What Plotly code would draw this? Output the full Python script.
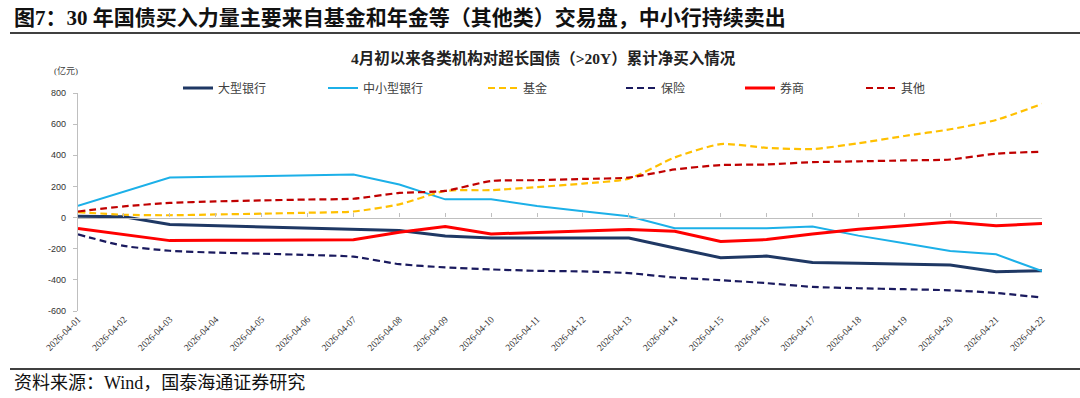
import plotly.graph_objects as go

dates = ["2026-04-%02d" % d for d in range(1, 23)]
big_banks = [8, 5, -45, -53, -62, -70, -79, -83, -118, -131, -131, -131, -131, -195, -258, -247, -288, -294, -301, -305, -348, -342]
small_banks = [75, 165, 257, 262, 267, 271, 276, 212, 117, 117, 75, 40, 9, -68, -68, -68, -57, -116, -165, -215, -236, -344]
funds = [35, 18, 15, 20, 25, 31, 39, 85, 171, 176, 196, 218, 250, 386, 472, 448, 440, 477, 524, 567, 627, 730]
insurance = [-108, -182, -213, -225, -232, -240, -251, -299, -320, -333, -342, -346, -357, -385, -402, -421, -445, -454, -460, -467, -484, -514]
brokers = [-70, -108, -148, -146, -145, -144, -143, -94, -57, -105, -94, -86, -77, -88, -154, -141, -105, -75, -52, -28, -52, -38]
others = [39, 72, 94, 104, 110, 116, 121, 158, 171, 235, 240, 248, 257, 309, 337, 341, 356, 361, 367, 373, 410, 423]

y_ticks = [-600, -400, -200, 0, 200, 400, 600, 800]

W, H = 1080, 398
L, R, T, B = 78, 38, 93, 87
PW, PH = W - L - R, H - T - B

def px(xp):
    return (xp - L) / PW

def py(yp):
    return (H - B - yp) / PH

SERIF = "Liberation Serif, Noto Sans CJK SC"
SANS = "Liberation Sans, Arial"

idx = list(range(len(dates)))

series = [
    ("大型银行", big_banks, "#1F3864", 3, "solid", "legend", 183),
    ("中小型银行", small_banks, "#1CB0E8", 2, "solid", "legend2", 328),
    ("基金", funds, "#FFC000", 2.2, "7px,4px", "legend3", 488),
    ("保险", insurance, "#1A1A5E", 2.2, "7px,4px", "legend4", 626),
    ("券商", brokers, "#FF0000", 3, "solid", "legend5", 745),
    ("其他", others, "#C00000", 2.2, "7px,4px", "legend6", 866),
]

fig = go.Figure()
legends = {}
for name, vals, color, w, dash, lg, lx in series:
    shape = "spline" if dash != "solid" else "linear"
    fig.add_trace(go.Scatter(
        x=idx, y=vals, name=name, mode="lines",
        line=dict(color=color, width=w, dash=dash, shape=shape, smoothing=0.6),
        legend=lg, hoverinfo="skip",
    ))
    legends[lg] = dict(
        x=px(lx - 5), y=py(88), xanchor="left", yanchor="middle",
        orientation="h", bgcolor="rgba(0,0,0,0)", borderwidth=0,
        font=dict(family=SERIF, size=12, color="#404040"),
        itemwidth=30, tracegroupgap=0,
    )

fig.update_layout(
    width=W, height=H,
    margin=dict(l=L, r=R, t=T, b=B, autoexpand=False),
    paper_bgcolor="white", plot_bgcolor="white",
    showlegend=True,
    **legends,
    xaxis=dict(
        range=[0, len(dates) - 1], tickmode="array", tickvals=idx, ticktext=dates,
        tickangle=-45, showline=False, ticks="", showgrid=False, zeroline=False,
        tickfont=dict(family=SERIF, size=9.5, color="#333333"), automargin=False,
    ),
    xaxis2=dict(
        overlaying="x", anchor="free", position=600 / 1400,
        range=[0, len(dates) - 1], tickmode="linear", tick0=0, dtick=1,
        showticklabels=False, showline=True, linecolor="#BFBFBF", linewidth=1.3,
        ticks="inside", ticklen=4, tickcolor="#BFBFBF", showgrid=False, zeroline=False,
    ),
    yaxis=dict(
        range=[-600, 800], tickmode="array", tickvals=y_ticks,
        ticktext=[str(v) for v in y_ticks],
        showline=True, linecolor="#BFBFBF", linewidth=1.3, ticks="outside", ticklen=4,
        tickcolor="#BFBFBF", showgrid=False, zeroline=False, ticklabelstandoff=5,
        tickfont=dict(family=SANS, size=9, color="#333333"), automargin=False,
    ),
)

fig.add_trace(go.Scatter(x=[None], y=[None], xaxis="x2", showlegend=False, hoverinfo="skip"))

fig.add_annotation(
    text="<b>图7：30 年国债买入力量主要来自基金和年金等（其他类）交易盘，中小行持续卖出</b>",
    xref="paper", yref="paper", x=px(12), y=py(18), xanchor="left", yanchor="middle",
    showarrow=False, font=dict(family=SERIF, size=21, color="#111111"),
)
fig.add_annotation(
    text="<b>4月初以来各类机构对超长国债（>20Y）累计净买入情况</b>",
    xref="paper", yref="paper", x=px(543), y=py(58), xanchor="center", yanchor="middle",
    showarrow=False, font=dict(family=SERIF, size=15.5, color="#222222"),
)
fig.add_annotation(
    text="(亿元)", xref="paper", yref="paper", x=px(66), y=py(70),
    xanchor="center", yanchor="middle", showarrow=False,
    font=dict(family=SERIF, size=9, color="#404040"),
)
fig.add_annotation(
    text="资料来源：Wind，国泰海通证券研究",
    xref="paper", yref="paper", x=px(12), y=py(383), xanchor="left", yanchor="middle",
    showarrow=False, font=dict(family=SERIF, size=18, color="#111111"),
)
fig.add_shape(type="line", xref="paper", yref="paper", x0=px(10), x1=px(1080),
              y0=py(33), y1=py(33), line=dict(color="#404040", width=2))
fig.add_shape(type="line", xref="paper", yref="paper", x0=px(10), x1=px(1080),
              y0=py(369), y1=py(369), line=dict(color="#404040", width=2))

fig.write_html(
    "out.html",
    config={"displayModeBar": False},
    post_script="document.body.style.margin='0';document.body.style.padding='0';",
)
